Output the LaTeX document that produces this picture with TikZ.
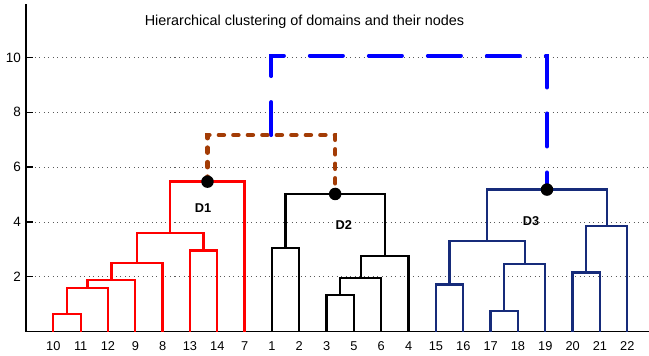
\documentclass[tikz,border=0pt]{standalone}
\usepackage{fontspec}
\setmainfont{Liberation Sans}
\definecolor{navy}{RGB}{22,43,122}
\definecolor{rust}{RGB}{163,60,5}
\definecolor{gridgray}{RGB}{90,90,90}
\tikzset{
  gridline/.style={gridgray, line width=0.8pt, dash pattern=on 1pt off 3.5pt},
  axisline/.style={black, line width=1.3pt},
  redtree/.style={red, line width=2.3pt},
  blacktree/.style={black, line width=2.3pt},
  navytree/.style={navy, line width=2.3pt},
  rustdash/.style={rust, line width=4.5pt, line cap=round, dash pattern=on 5pt off 9.5pt},
  bluedash/.style={blue, line width=4pt, line cap=round, dash pattern=on 33pt off 26pt},
  dot/.style={circle, fill=black, inner sep=0pt, minimum size=12.5pt},
  leaflabel/.style={font=\fontsize{12.8}{14}\selectfont, inner sep=0pt},
  ticklabel/.style={font=\fontsize{13.5}{15}\selectfont, inner sep=0pt, anchor=east},
  dlabel/.style={font=\fontsize{12.8}{14}\selectfont\bfseries, inner sep=0pt},
}
\begin{document}
\begin{tikzpicture}[x=27.33pt, y=27.4pt]
\useasboundingbox (-0.951,-0.858) rectangle (22.795,12.099);
% grid lines
\foreach \h in {2,4,6,8,10} {
  \draw[gridline] (0,\h) -- (22.795,\h);
}
% axes
\coordinate (ytop) at (0,11.95);
\coordinate (origin) at (0,0);
\coordinate (xend) at (22.795,0);
\draw[axisline] (ytop) -- (origin) -- (xend);
\foreach \h in {2,4,6,8,10} {
  \draw[axisline] (0,\h) -- (0.256,\h);
  \node[ticklabel] (t\h) at (-0.18,\h) {\h};
}
% title
\node[font=\fontsize{14.4}{16}\selectfont, inner sep=0pt, anchor=base] (title) at (10.19,11.175) {Hierarchical clustering of domains and their nodes};
% leaves
\foreach \i/\lab in {1/10,2/11,3/12,4/9,5/8,6/13,7/14,8/7,9/1,10/2,11/3,12/5,13/6,14/4,15/15,16/16,17/17,18/18,19/19,20/20,21/21,22/22} {
  \coordinate (L\i) at (\i,0);
  \node[leaflabel] (n\i) at (\i,-0.53) {\lab};
}
% merge points
\coordinate (r1) at (1.5,0.64);
\coordinate (r2) at (2.25,1.59);
\coordinate (r3) at (3.125,1.88);
\coordinate (r4) at (4.0625,2.51);
\coordinate (r5) at (6.5,2.96);
\coordinate (r6) at (5.28125,3.6);
\coordinate (r7) at (6.640625,5.47);
\coordinate (k1) at (9.5,3.05);
\coordinate (k2) at (11.5,1.34);
\coordinate (k3) at (12.25,1.96);
\coordinate (k4) at (13.125,2.76);
\coordinate (k5) at (11.3125,5.02);
\coordinate (b1) at (15.5,1.72);
\coordinate (b2) at (17.5,0.75);
\coordinate (b3) at (18.25,2.46);
\coordinate (b4) at (16.875,3.3);
\coordinate (b5) at (20.5,2.15);
\coordinate (b6) at (21.25,3.84);
\coordinate (b7) at (19.0625,5.18);
\coordinate (c1) at (8.9765625,7.17);
\coordinate (c2) at (14.01953125,10.07);
% red tree
\draw[redtree] (L1) |- (r1) -| (L2);
\draw[redtree] (r1) |- (r2) -| (L3);
\draw[redtree] (r2) |- (r3) -| (L4);
\draw[redtree] (r3) |- (r4) -| (L5);
\draw[redtree] (L6) |- (r5) -| (L7);
\draw[redtree] (r4) |- (r6) -| (r5);
\draw[redtree] (r6) |- (r7) -| (L8);
% black tree
\draw[blacktree] (L9) |- (k1) -| (L10);
\draw[blacktree] (L11) |- (k2) -| (L12);
\draw[blacktree] (k2) |- (k3) -| (L13);
\draw[blacktree] (k3) |- (k4) -| (L14);
\draw[blacktree] (k1) |- (k5) -| (k4);
% navy tree
\draw[navytree] (L15) |- (b1) -| (L16);
\draw[navytree] (L17) |- (b2) -| (L18);
\draw[navytree] (b2) |- (b3) -| (L19);
\draw[navytree] (b1) |- (b4) -| (b3);
\draw[navytree] (L20) |- (b5) -| (L21);
\draw[navytree] (b5) |- (b6) -| (L22);
\draw[navytree] (b4) |- (b7) -| (b6);
% dashed links
\draw[bluedash] (c1) |- (c2) -| (b7);
\draw[rustdash] (r7) |- (c1) -| (k5);
% dots
\node[dot] (d1) at (r7) {};
\node[dot] (d2) at (k5) {};
\node[dot] (d3) at (b7) {};
% domain labels
\node[dlabel] (D1) at (6.48,4.50) {D1};
\node[dlabel] (D2) at (11.63,3.89) {D2};
\node[dlabel] (D3) at (18.48,4.04) {D3};
\end{tikzpicture}
\end{document}
